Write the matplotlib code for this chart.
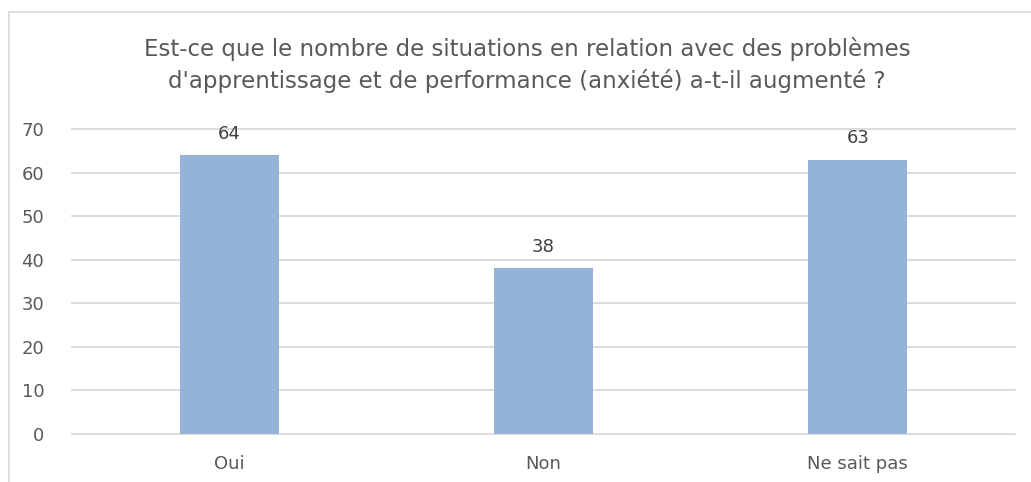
import matplotlib
matplotlib.use("Agg")
import matplotlib.pyplot as plt
from matplotlib.patches import Rectangle

categories = ["Oui", "Non", "Ne sait pas"]
values = [64, 38, 63]
yticks = [0, 10, 20, 30, 40, 50, 60, 70]
title = ("Est-ce que le nombre de situations en relation avec des problèmes\n"
         "d'apprentissage et de performance (anxiété) a-t-il augmenté ?")

plt.rcParams['font.family'] = ['DejaVu Sans']

W, H = 1031, 482
fig = plt.figure(figsize=(W / 100, H / 100), dpi=100)
ax = fig.add_axes([72 / W, 1 - 434 / H, (1015 - 72) / W, (434 - 129) / H])

x = list(range(len(categories)))
bars = ax.bar(x, values, width=0.315, color="#95B3D7", zorder=3)
ax.set_xlim(-0.5, len(categories) - 0.5)
ax.set_ylim(0, 70)
ax.set_yticks(yticks)
ax.set_xticks(x)
ax.set_xticklabels(categories)
ax.grid(axis="y", color="#D9D9D9", linewidth=1.3, zorder=0, clip_on=False)
for line in ax.get_ygridlines():
    line.set_clip_on(False)
for s in ax.spines.values():
    s.set_visible(False)
ax.tick_params(axis="both", length=0, labelsize=13, colors="#595959")
ax.tick_params(axis="y", pad=20)
ax.tick_params(axis="x", pad=15)

for xi, v in zip(x, values):
    ax.annotate(str(v), (xi, v), xytext=(0, 9), textcoords="offset points",
                ha="center", va="bottom", fontsize=13, color="#404040")

fig.text(527 / W, 1 - 65 / H, title, ha="center", va="center",
         fontsize=16.5, color="#595959", linespacing=1.45)

fig.add_artist(Rectangle((9 / W, -0.1), 1.2, 1.1 - 12 / H, transform=fig.transFigure,
                         fill=False, edgecolor="#D9D9D9", linewidth=1.2))

fig.savefig("out.png", dpi=100)
